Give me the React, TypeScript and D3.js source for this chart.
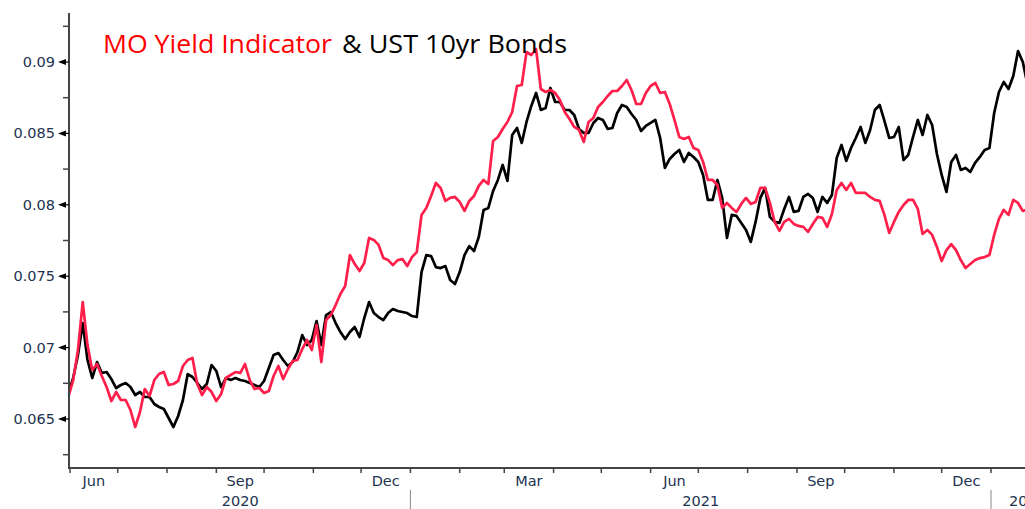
import React from "react";
import * as d3 from "d3";

const DATES = [
  "2020-05-31","2020-06-03","2020-06-06","2020-06-09","2020-06-12","2020-06-15","2020-06-18","2020-06-21","2020-06-24","2020-06-27",
  "2020-06-30","2020-07-03","2020-07-06","2020-07-09","2020-07-12","2020-07-15","2020-07-18","2020-07-21","2020-07-24","2020-07-27",
  "2020-07-30","2020-08-02","2020-08-05","2020-08-08","2020-08-11","2020-08-14","2020-08-17","2020-08-20","2020-08-23","2020-08-26",
  "2020-08-29","2020-09-01","2020-09-04","2020-09-07","2020-09-10","2020-09-13","2020-09-16","2020-09-19","2020-09-22","2020-09-25",
  "2020-09-28","2020-10-01","2020-10-04","2020-10-07","2020-10-10","2020-10-13","2020-10-16","2020-10-19","2020-10-22","2020-10-25",
  "2020-10-28","2020-10-31","2020-11-03","2020-11-06","2020-11-09","2020-11-12","2020-11-15","2020-11-18","2020-11-21","2020-11-24",
  "2020-11-27","2020-11-30","2020-12-03","2020-12-06","2020-12-09","2020-12-12","2020-12-15","2020-12-18","2020-12-21","2020-12-24",
  "2020-12-27","2020-12-30","2021-01-02","2021-01-05","2021-01-08","2021-01-11","2021-01-14","2021-01-17","2021-01-20","2021-01-23",
  "2021-01-26","2021-01-29","2021-02-01","2021-02-04","2021-02-07","2021-02-10","2021-02-13","2021-02-16","2021-02-19","2021-02-22",
  "2021-02-25","2021-02-28","2021-03-03","2021-03-06","2021-03-09","2021-03-12","2021-03-15","2021-03-18","2021-03-21","2021-03-24",
  "2021-03-27","2021-03-30","2021-04-02","2021-04-05","2021-04-08","2021-04-11","2021-04-14","2021-04-17","2021-04-20","2021-04-23",
  "2021-04-26","2021-04-29","2021-05-02","2021-05-05","2021-05-08","2021-05-11","2021-05-14","2021-05-17","2021-05-20","2021-05-23",
  "2021-05-26","2021-05-29","2021-06-01","2021-06-04","2021-06-07","2021-06-10","2021-06-13","2021-06-16","2021-06-19","2021-06-22",
  "2021-06-25","2021-06-28","2021-07-01","2021-07-04","2021-07-07","2021-07-10","2021-07-13","2021-07-16","2021-07-19","2021-07-22",
  "2021-07-25","2021-07-28","2021-07-31","2021-08-03","2021-08-06","2021-08-09","2021-08-12","2021-08-15","2021-08-18","2021-08-21",
  "2021-08-24","2021-08-27","2021-08-30","2021-09-02","2021-09-05","2021-09-08","2021-09-11","2021-09-14","2021-09-17","2021-09-20",
  "2021-09-23","2021-09-26","2021-09-29","2021-10-02","2021-10-05","2021-10-08","2021-10-11","2021-10-14","2021-10-17","2021-10-20",
  "2021-10-23","2021-10-26","2021-10-29","2021-11-01","2021-11-04","2021-11-07","2021-11-10","2021-11-13","2021-11-16","2021-11-19",
  "2021-11-22","2021-11-25","2021-11-28","2021-12-01","2021-12-04","2021-12-07","2021-12-10","2021-12-13","2021-12-16","2021-12-19",
  "2021-12-22","2021-12-25","2021-12-28","2021-12-31","2022-01-03","2022-01-06","2022-01-09","2022-01-12","2022-01-15","2022-01-18",
  "2022-01-21","2022-01-24"
];

// MO Yield Indicator (red)
const MO_YIELD = [
  0.06654,0.06773,0.06983,0.07319,0.07018,0.06843,0.06885,0.06801,0.06724,0.06626,
  0.06689,0.06633,0.06633,0.06563,0.06444,0.06549,0.06710,0.06661,0.06773,0.06815,
  0.06829,0.06738,0.06745,0.06766,0.06871,0.06913,0.06927,0.06745,0.06668,0.06724,
  0.06689,0.06626,0.06675,0.06787,0.06808,0.06829,0.06822,0.06885,0.06773,0.06710,
  0.06717,0.06682,0.06696,0.06801,0.06871,0.06780,0.06850,0.06906,0.06913,0.06990,
  0.07053,0.06983,0.07158,0.06899,0.07193,0.07228,0.07298,0.07375,0.07431,0.07648,
  0.07585,0.07536,0.07592,0.07768,0.07754,0.07719,0.07627,0.07613,0.07578,0.07613,
  0.07620,0.07571,0.07634,0.07669,0.07929,0.07978,0.08062,0.08153,0.08118,0.08027,
  0.08048,0.08055,0.08020,0.07957,0.08027,0.08062,0.08132,0.08174,0.08146,0.08447,
  0.08475,0.08531,0.08580,0.08650,0.08832,0.08839,0.09070,0.09049,0.09091,0.08811,
  0.08790,0.08804,0.08783,0.08734,0.08650,0.08601,0.08545,0.08524,0.08440,0.08580,
  0.08608,0.08685,0.08720,0.08762,0.08797,0.08797,0.08832,0.08874,0.08804,0.08706,
  0.08706,0.08783,0.08832,0.08853,0.08783,0.08790,0.08706,0.08594,0.08475,0.08461,
  0.08475,0.08398,0.08384,0.08300,0.08174,0.08174,0.08139,0.07978,0.08013,0.07978,
  0.07950,0.08006,0.08048,0.08006,0.08020,0.08118,0.08118,0.08013,0.07880,0.07817,
  0.07880,0.07901,0.07866,0.07852,0.07845,0.07810,0.07866,0.07915,0.07908,0.07845,
  0.07936,0.08104,0.08153,0.08104,0.08153,0.08083,0.08083,0.08083,0.08055,0.08034,
  0.08027,0.07929,0.07803,0.07880,0.07950,0.07999,0.08034,0.08034,0.07971,0.07796,
  0.07824,0.07789,0.07705,0.07606,0.07683,0.07725,0.07683,0.07613,0.07557,0.07585,
  0.07613,0.07627,0.07634,0.07648,0.07789,0.07901,0.07964,0.07929,0.08034,0.08013,
  0.07957,0.07964
];

// UST 10yr Bonds (black)
const UST_10YR = [
  0.06682,0.06787,0.06948,0.07172,0.06913,0.06787,0.06899,0.06822,0.06829,0.06780,
  0.06717,0.06738,0.06752,0.06724,0.06668,0.06689,0.06654,0.06654,0.06605,0.06584,
  0.06570,0.06507,0.06444,0.06521,0.06633,0.06815,0.06794,0.06752,0.06710,0.06745,
  0.06878,0.06836,0.06724,0.06787,0.06773,0.06787,0.06773,0.06766,0.06752,0.06738,
  0.06724,0.06766,0.06857,0.06948,0.06962,0.06913,0.06871,0.06899,0.06969,0.07088,
  0.07018,0.07053,0.07186,0.07018,0.07228,0.07249,0.07172,0.07109,0.07060,0.07109,
  0.07144,0.07074,0.07207,0.07319,0.07242,0.07214,0.07193,0.07242,0.07270,0.07256,
  0.07249,0.07242,0.07221,0.07214,0.07529,0.07648,0.07641,0.07564,0.07557,0.07571,
  0.07473,0.07445,0.07529,0.07648,0.07711,0.07676,0.07775,0.07964,0.07978,0.08097,
  0.08174,0.08279,0.08167,0.08489,0.08538,0.08433,0.08580,0.08692,0.08783,0.08664,
  0.08678,0.08818,0.08720,0.08720,0.08664,0.08664,0.08629,0.08531,0.08503,0.08503,
  0.08573,0.08608,0.08594,0.08531,0.08538,0.08643,0.08699,0.08685,0.08636,0.08594,
  0.08517,0.08552,0.08573,0.08594,0.08468,0.08258,0.08321,0.08356,0.08384,0.08300,
  0.08363,0.08335,0.08300,0.08209,0.08034,0.08034,0.08174,0.08048,0.07768,0.07929,
  0.07922,0.07873,0.07824,0.07740,0.07880,0.08048,0.08118,0.07915,0.07880,0.07873,
  0.07971,0.08055,0.07950,0.07957,0.08055,0.08076,0.08048,0.07950,0.08055,0.08013,
  0.08069,0.08328,0.08419,0.08307,0.08398,0.08468,0.08545,0.08433,0.08524,0.08664,
  0.08699,0.08587,0.08468,0.08475,0.08545,0.08314,0.08349,0.08475,0.08594,0.08489,
  0.08629,0.08559,0.08356,0.08209,0.08090,0.08300,0.08349,0.08244,0.08258,0.08230,
  0.08293,0.08335,0.08384,0.08398,0.08643,0.08790,0.08860,0.08811,0.08902,0.09077,
  0.09000,0.08839
];

const Y_MAJOR_TICKS = [0.065, 0.07, 0.075, 0.08, 0.085, 0.09];
const Y_TICK_LABELS = ["0.065", "0.07", "0.075", "0.08", "0.085", "0.09"];
const Y_MINOR_TICKS = [0.0625, 0.0675, 0.0725, 0.0775, 0.0825, 0.0875, 0.0925];
const MONTH_LABELS = [
  { month: "2020-06-01", label: "Jun" },
  { month: "2020-09-01", label: "Sep" },
  { month: "2020-12-01", label: "Dec" },
  { month: "2021-03-01", label: "Mar" },
  { month: "2021-06-01", label: "Jun" },
  { month: "2021-09-01", label: "Sep" },
  { month: "2021-12-01", label: "Dec" },
];
const YEAR_LABELS = [
  { start: "2020-06-01", end: "2021-01-01", label: "2020" },
  { start: "2021-01-01", end: "2022-01-01", label: "2021" },
];
const YEAR_BOUNDARIES = ["2021-01-01", "2022-01-01"];
const LAST_YEAR_LABEL = { start: "2022-01-01", label: "2022" };

const parse = d3.utcParse("%Y-%m-%d");

export default function App() {
  const W = 1025;
  const H = 509;
  const axisX = 69;
  const axisY = 468;

  const x = d3
    .scaleUtc()
    .domain([parse("2020-06-01") as Date, parse("2022-01-01") as Date])
    .range([70, 991]);
  const y = d3.scaleLinear().domain([0.065, 0.09]).range([419, 62]);

  const dates = DATES.map((d) => parse(d) as Date);
  const line = d3
    .line<number>()
    .x((_, i) => x(dates[i]))
    .y((v) => y(v));

  const monthTicks = d3.utcMonth.range(
    parse("2020-06-01") as Date,
    parse("2022-02-01") as Date
  );

  const labelFont = "'DejaVu Sans', Verdana, sans-serif";
  const labelColor = "#22324f";
  const axisColor = "#444";

  return (
    <svg
      width={W}
      height={H}
      style={{ position: "absolute", left: 0, top: 0, background: "#fff" }}
    >
      <defs>
        <clipPath id="plot-clip">
          <rect x={axisX} y={0} width={W - axisX} height={axisY} />
        </clipPath>
      </defs>
      <rect x={0} y={0} width={W} height={H} fill="#fff" />

      {/* Lines */}
      <g clipPath="url(#plot-clip)">
        <path
          d={line(UST_10YR) || ""}
          fill="none"
          stroke="#000"
          strokeWidth={2.7}
          strokeLinejoin="round"
        />
        <path
          d={line(MO_YIELD) || ""}
          fill="none"
          stroke="#ff1f4b"
          strokeWidth={2.7}
          strokeLinejoin="round"
        />
      </g>

      {/* Y axis */}
      <line x1={axisX} x2={axisX} y1={13} y2={axisY} stroke={axisColor} strokeWidth={2} />
      {Y_MINOR_TICKS.map((t) => (
        <line key={"m" + t} x1={63} x2={axisX} y1={y(t)} y2={y(t)} stroke={axisColor} strokeWidth={1.5} />
      ))}
      {Y_MAJOR_TICKS.map((t, i) => (
        <g key={"M" + t}>
          <line x1={60} x2={axisX} y1={y(t)} y2={y(t)} stroke="#000" strokeWidth={1.2} />
          <path
            d={`M${58},${y(t)} L${66},${y(t) - 3} L${66},${y(t) + 3} Z`}
            fill="#000"
          />
          <text
            x={55}
            y={y(t) + 5}
            textAnchor="end"
            fontFamily={labelFont}
            fontSize={14.5}
            fill={labelColor}
          >
            {Y_TICK_LABELS[i]}
          </text>
        </g>
      ))}

      {/* X axis */}
      <line x1={axisX - 1} x2={W} y1={axisY} y2={axisY} stroke={axisColor} strokeWidth={2} />
      {monthTicks.map((m) => (
        <line
          key={"t" + m.toISOString()}
          x1={x(m)}
          x2={x(m)}
          y1={axisY}
          y2={axisY + 5}
          stroke={axisColor}
          strokeWidth={1.5}
        />
      ))}
      {MONTH_LABELS.map((m) => {
        const s = parse(m.month) as Date;
        const e = d3.utcMonth.offset(s, 1);
        return (
          <text
            key={"ml" + m.month}
            x={(x(s) + x(e)) / 2}
            y={486}
            textAnchor="middle"
            fontFamily={labelFont}
            fontSize={14.5}
            fill={labelColor}
          >
            {m.label}
          </text>
        );
      })}
      {YEAR_LABELS.map((yl) => (
        <text
          key={"yl" + yl.label}
          x={(x(parse(yl.start) as Date) + x(parse(yl.end) as Date)) / 2}
          y={506}
          textAnchor="middle"
          fontFamily={labelFont}
          fontSize={14.5}
          fill={labelColor}
        >
          {yl.label}
        </text>
      ))}
      <text
        x={x(parse(LAST_YEAR_LABEL.start) as Date) + 18}
        y={506}
        textAnchor="start"
        fontFamily={labelFont}
        fontSize={14.5}
        fill={labelColor}
      >
        {LAST_YEAR_LABEL.label}
      </text>
      {YEAR_BOUNDARIES.map((b) => (
        <line
          key={"yb" + b}
          x1={x(parse(b) as Date)}
          x2={x(parse(b) as Date)}
          y1={490}
          y2={H}
          stroke="#888"
          strokeWidth={1}
        />
      ))}

      {/* Title */}
      <text
        x={103}
        y={53}
        fontFamily="'Open Sans', 'Noto Sans', sans-serif"
        fontSize={26}
        fill="#ff0000"
        textLength={229}
        lengthAdjust="spacingAndGlyphs"
      >
        MO Yield Indicator
      </text>
      <text
        x={342}
        y={53}
        fontFamily="'Open Sans', 'Noto Sans', sans-serif"
        fontSize={26}
        fill="#000"
        textLength={225}
        lengthAdjust="spacingAndGlyphs"
      >
        &amp; UST 10yr Bonds
      </text>
    </svg>
  );
}
